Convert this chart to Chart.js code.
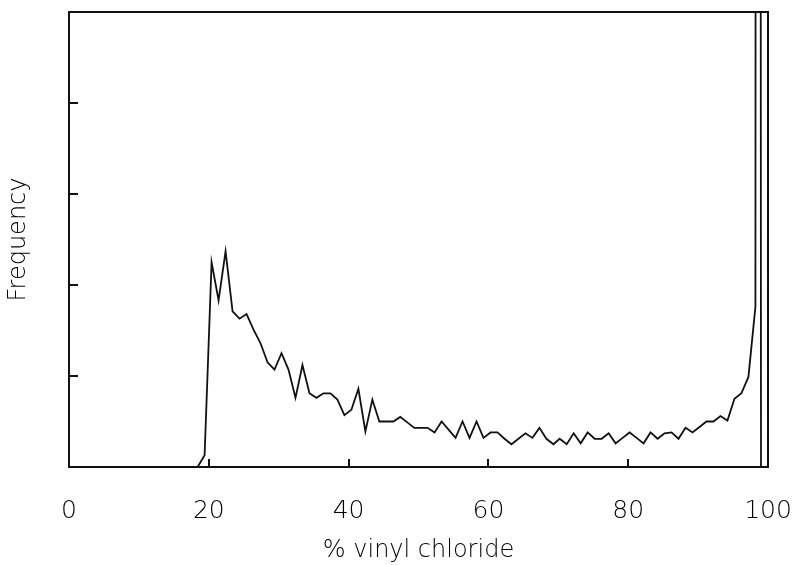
<!DOCTYPE html>
<html>
<head>
<meta charset="utf-8">
<script src="https://cdn.jsdelivr.net/npm/chart.js@4"></script>
<style>
html,body{margin:0;padding:0;background:#fff;}
#wrap{width:793px;height:565px;}
</style>
</head>
<body>
<div id="wrap"><canvas id="c" width="793" height="565"></canvas></div>
<script>
// % vinyl chloride (bin positions) and frequency (arbitrary units, axis ticks at 1..4)
const composition = [18.4,19.4,20.4,21.4,22.4,23.4,24.4,25.4,26.4,27.4,28.4,29.4,30.4,31.4,32.4,33.4,34.4,35.4,36.4,37.4,38.4,39.4,40.4,41.4,42.4,43.4,44.4,45.4,46.4,47.4,48.4,49.4,
  50.3,51.3,52.3,53.3,54.3,55.3,56.3,57.3,58.3,59.3,60.3,61.3,62.3,63.3,64.3,65.3,66.3,67.3,68.3,69.3,
  70.2,71.2,72.2,73.2,74.2,75.2,76.2,77.2,78.2,79.2,80.2,81.2,82.2,83.2,84.2,85.2,86.2,87.2,88.2,89.2,90.2,91.2,92.2,93.2,94.2,95.2,96.2,97.2,98.2,98.55,99.0];
const frequency = [0,0.13,2.25,1.83,2.37,1.71,1.63,1.68,1.51,1.36,1.15,1.07,1.25,1.07,0.76,1.12,0.81,0.76,0.81,0.81,0.74,0.57,0.63,0.86,0.39,0.74,0.50,0.50,0.50,0.55,0.49,0.43,
  0.43,0.43,0.38,0.50,0.41,0.32,0.50,0.32,0.50,0.32,0.38,0.38,0.31,0.25,0.31,0.37,0.32,0.43,0.31,0.25,
  0.31,0.25,0.37,0.26,0.38,0.31,0.31,0.37,0.26,0.32,0.38,0.32,0.26,0.38,0.31,0.37,0.38,0.31,0.43,0.38,0.44,0.50,0.50,0.56,0.51,0.75,0.81,0.99,1.76,60,0];
const xTickLabels = ['0','20','40','60','80','100'];
const yTicks = [0,1,2,3,4,5];

const points = composition.map((c,i)=>({x:c,y:frequency[i]}));
const INK = '#111';

const frameTicks = {
  id:'frameTicks',
  afterDatasetsDraw(chart){
    const {ctx, chartArea:a, scales:{x,y}} = chart;
    ctx.save();
    ctx.strokeStyle = INK; ctx.lineWidth = 2;
    ctx.strokeRect(a.left, a.top, a.right-a.left, a.bottom-a.top);
    ctx.beginPath();
    x.ticks.forEach(t=>{
      if(t.value>x.min && t.value<x.max){
        const px = Math.round(x.getPixelForValue(t.value));
        ctx.moveTo(px, a.bottom); ctx.lineTo(px, a.bottom-8);
      }
    });
    y.ticks.forEach(t=>{
      if(t.value>y.min && t.value<y.max){
        const py = Math.round(y.getPixelForValue(t.value));
        ctx.moveTo(a.left, py); ctx.lineTo(a.left+9, py);
      }
    });
    ctx.stroke();
    ctx.restore();
  }
};

new Chart(document.getElementById('c'), {
  type:'line',
  data:{datasets:[{data:points, borderColor:INK, borderWidth:1.8, pointRadius:0, tension:0, fill:false}]},
  options:{
    responsive:false, animation:false,
    layout:{padding:{top:12,right:25,left:0,bottom:0}},
    plugins:{legend:{display:false}, tooltip:{enabled:false}},
    scales:{
      x:{type:'linear', min:0, max:100,
        afterBuildTicks(s){ s.ticks = xTickLabels.map(v=>({value:Number(v)})); },
        afterFit(s){ s.height = 98; s.paddingLeft = 0; s.paddingRight = 0; },
        grid:{display:false, drawTicks:false},
        border:{display:false},
        ticks:{color:'#000', padding:29, maxRotation:0, autoSkip:false, callback:(v)=>String(v),
          font:{family:'DejaVu Sans', size:25, weight:'200'}},
        title:{display:true, text:'% vinyl chloride', color:'#000', padding:{top:0,bottom:0},
          font:{family:'DejaVu Sans', size:24, weight:'200'}}
      },
      y:{type:'linear', min:0, max:5,
        afterBuildTicks(s){ s.ticks = yTicks.map(v=>({value:v})); },
        afterFit(s){ s.width = 69; s.paddingTop = 0; s.paddingBottom = 0; },
        grid:{display:false, drawTicks:false},
        border:{display:false},
        ticks:{display:false},
        title:{display:true, text:'Frequency', color:'#000', padding:{top:4,bottom:0},
          font:{family:'DejaVu Sans', size:24, weight:'200'}}
      }
    }
  },
  plugins:[frameTicks]
});
</script>
</body>
</html>
